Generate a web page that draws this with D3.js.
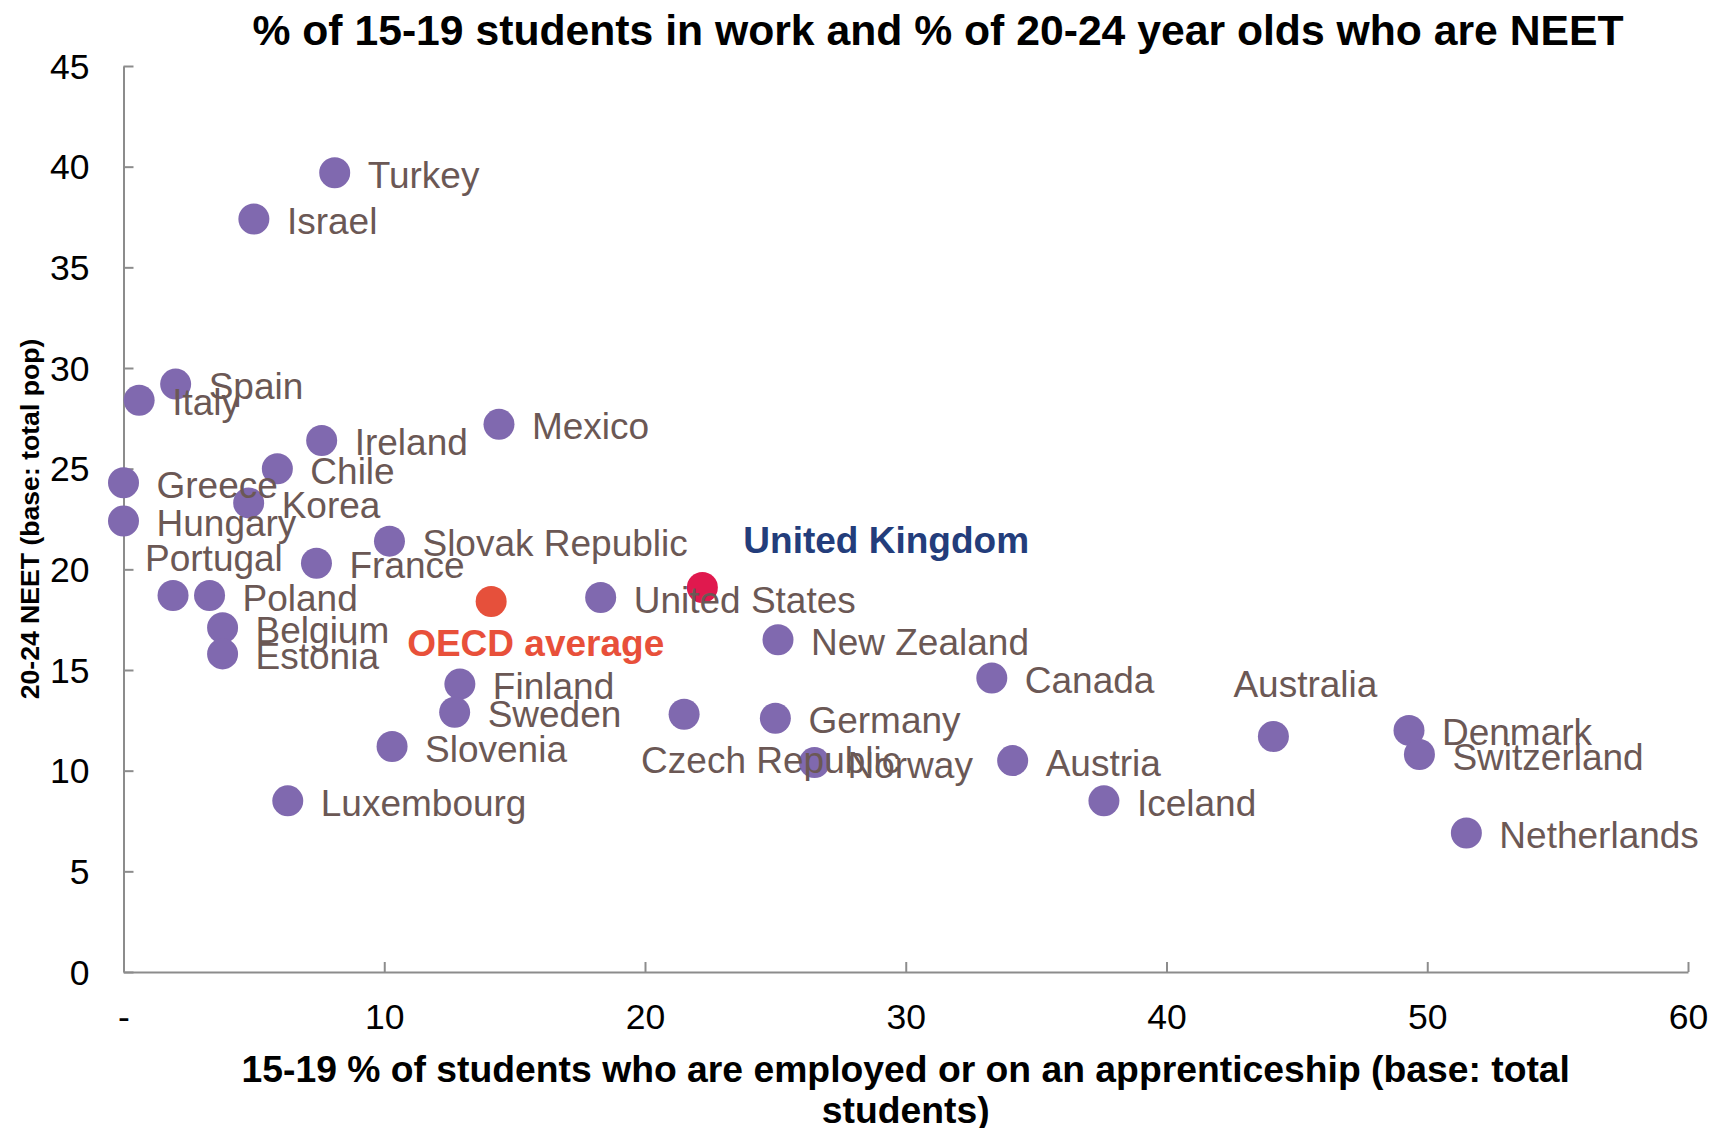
<!DOCTYPE html>
<html>
<head>
<meta charset="utf-8">
<script src="https://cdn.jsdelivr.net/npm/d3@7"></script>
<style>
  html, body { margin: 0; padding: 0; background: #ffffff; }
  svg { display: block; font-family: "Liberation Sans", Arial, sans-serif; }
</style>
</head>
<body>
<svg id="chart" width="1712" height="1128"></svg>
<script>
// OECD countries: share of 15-19 students in work (x) and 20-24 NEET rate (y)
const countries = [
  "Turkey", "Israel", "Spain", "Italy", "Mexico", "Ireland", "Chile", "Greece",
  "Korea", "Hungary", "Slovak Republic", "France", "Portugal", "Poland",
  "United States", "Belgium", "Estonia", "New Zealand", "Canada", "Finland",
  "Sweden", "Czech Republic", "Germany", "Australia", "Denmark", "Switzerland",
  "Slovenia", "Norway", "Austria", "Luxembourg", "Iceland", "Netherlands"
];
const workPct = [
  8.1, 5.0, 2.0, 0.6, 14.4, 7.6, 5.9, 0.0,
  4.8, 0.0, 10.2, 7.4, 1.9, 3.3,
  18.3, 3.8, 3.8, 25.1, 33.3, 12.9,
  12.7, 21.5, 25.0, 44.1, 49.3, 49.7,
  10.3, 26.5, 34.1, 6.3, 37.6, 51.5
];
const neetPct = [
  39.7, 37.4, 29.2, 28.4, 27.2, 26.4, 25.0, 24.3,
  23.3, 22.4, 21.4, 20.3, 18.7, 18.7,
  18.6, 17.1, 15.8, 16.5, 14.6, 14.3,
  12.9, 12.8, 12.6, 11.7, 12.0, 10.8,
  11.2, 10.4, 10.5, 8.5, 8.5, 6.9
];

// Highlighted series
const highlightNames = ["OECD average", "United Kingdom"];
const highlightWork = [14.1, 22.2];
const highlightNeet = [18.4, 19.1];

// Axis ticks
const xTickValues = [0, 10, 20, 30, 40, 50, 60];
const xTickLabels = ["-", "10", "20", "30", "40", "50", "60"];
const yTickValues = [0, 5, 10, 15, 20, 25, 30, 35, 40, 45];

// Text
const chartTitle = "% of 15-19 students in work and % of 20-24 year olds who are NEET";
const xTitleLines = ["15-19 % of students who are employed or on an apprenticeship (base: total", "students)"];
const yTitle = "20-24 NEET (base: total pop)";

// ---- layout & styling ----
const plot = { left: 123.5, right: 1688, top: 66, bottom: 972 };
const dotRadius = 15.5;
const dotColor = "#8069AF";
const labelColor = "#6B5855";
const axisColor = "#8C8C8C";
const highlightDot = ["#E6503B", "#E0194E"];
const highlightText = ["#E8503A", "#233D7B"];

// label placement: start offset from dot centre (dx) and baseline offset (dy)
const defaultLabel = { dx: 33, dy: 15 };
const labelShift = {
  "Portugal": { dx: -28, dy: -25 },
  "Czech Republic": { dx: -43, dy: 59 },
  "Australia": { dx: -40, dy: -39 },
  "OECD average": { dx: -84, dy: 54 },
  "United Kingdom": { dx: 41, dy: -34 }
};

const svg = d3.select("#chart");

const x = d3.scaleLinear().domain([0, 60]).range([plot.left, plot.right]);
const y = d3.scaleLinear().domain([0, 45]).range([plot.bottom, plot.top]);

// Title
svg.append("text")
  .attr("x", 938).attr("y", 45)
  .attr("text-anchor", "middle")
  .attr("font-size", 42.7).attr("font-weight", "bold")
  .attr("fill", "#000")
  .text(chartTitle);

// Y axis
const yAxis = d3.axisLeft(y)
  .tickValues(yTickValues)
  .tickSize(-10).tickSizeOuter(0)
  .tickPadding(34)
  .tickFormat(d3.format("d"));
const gy = svg.append("g")
  .attr("transform", `translate(${plot.left},0)`)
  .call(yAxis);
gy.select(".domain").attr("stroke", axisColor).attr("stroke-width", 2);
gy.selectAll(".tick line").attr("stroke", axisColor).attr("stroke-width", 2);
gy.selectAll(".tick text")
  .attr("font-size", 35.5).attr("fill", "#000")
  .attr("font-family", "Liberation Sans, Arial, sans-serif")
  .attr("dy", "0.34em");

// X axis
const xAxis = d3.axisBottom(x)
  .tickValues(xTickValues)
  .tickSize(-10).tickSizeOuter(0)
  .tickPadding(32)
  .tickFormat((d, i) => xTickLabels[i]);
const gx = svg.append("g")
  .attr("transform", `translate(0,${plot.bottom})`)
  .call(xAxis);
gx.select(".domain").attr("stroke", axisColor).attr("stroke-width", 2);
gx.selectAll(".tick line").attr("stroke", axisColor).attr("stroke-width", 2);
gx.selectAll(".tick text")
  .attr("font-size", 35.5).attr("fill", "#000")
  .attr("font-family", "Liberation Sans, Arial, sans-serif");

// Axis titles
svg.append("text")
  .attr("transform", `translate(39,519) rotate(-90)`)
  .attr("text-anchor", "middle")
  .attr("font-size", 26.6).attr("font-weight", "bold")
  .attr("fill", "#000")
  .text(yTitle);

svg.append("g").selectAll("text")
  .data(xTitleLines)
  .join("text")
  .attr("x", (plot.left + plot.right) / 2)
  .attr("y", (d, i) => 1082 + i * 41)
  .attr("text-anchor", "middle")
  .attr("font-size", 37.3).attr("font-weight", "bold")
  .attr("fill", "#000")
  .text(d => d);

// Points
const pts = countries.map((name, i) => ({ name, wx: workPct[i], ny: neetPct[i], fill: dotColor, text: labelColor, bold: false }));
const hl = highlightNames.map((name, i) => ({ name, wx: highlightWork[i], ny: highlightNeet[i], fill: highlightDot[i], text: highlightText[i], bold: true }));
const all = pts.concat(hl);

svg.append("g").selectAll("circle")
  .data(all)
  .join("circle")
  .attr("cx", d => x(d.wx))
  .attr("cy", d => y(d.ny))
  .attr("r", dotRadius)
  .attr("fill", d => d.fill);

// Data labels
svg.append("g").selectAll("text")
  .data(all)
  .join("text")
  .attr("x", d => x(d.wx) + (labelShift[d.name] || defaultLabel).dx)
  .attr("y", d => y(d.ny) + (labelShift[d.name] || defaultLabel).dy)
  .attr("font-size", 37)
  .attr("font-weight", d => d.bold ? "bold" : "normal")
  .attr("fill", d => d.text)
  .text(d => d.name);
</script>
</body>
</html>
